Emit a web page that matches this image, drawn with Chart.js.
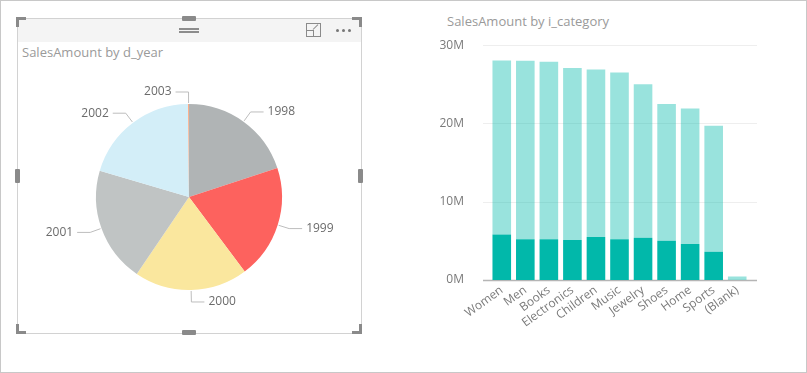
<!DOCTYPE html>
<html lang="en">
<head>
<meta charset="UTF-8">
<title>SalesAmount report</title>
<script src="https://cdn.jsdelivr.net/npm/chart.js"></script>
<style>
  html, body { margin: 0; padding: 0; background: #fff; }
  body { width: 807px; height: 373px; position: relative; overflow: hidden;
         font-family: 'Segoe UI', 'Open Sans', sans-serif; }
  .outer { position: absolute; left: 0; top: 0; width: 805px; height: 371px; border: 1px solid #c8c8c8; }
  .frame { position: absolute; left: 17px; top: 18px; width: 343px; height: 314px; border: 1px solid #d2d2d2; }
  .header { position: absolute; left: 18px; top: 19px; width: 343px; height: 23px; background: #f4f4f4; }
  .handle { position: absolute; background: #8a8a8a; }
  .grip { position: absolute; left: 179px; width: 20px; height: 2px; background: #8c8c8c; }
  .dot { position: absolute; top: 29px; width: 3px; height: 3px; border-radius: 50%; background: #777; }
  .focus { position: absolute; left: 306px; top: 23px; width: 13px; height: 12px; border: 1px solid #8a8a8a; }
  .focus i { position: absolute; left: 0; bottom: 0; width: 6px; height: 5px; border-top: 1px solid #8a8a8a; border-right: 1px solid #8a8a8a; }
  .focus b { position: absolute; left: 6px; top: 5px; width: 7px; height: 1px; background: #8a8a8a; transform: rotate(-45deg); transform-origin: left center; }
  .title { position: absolute; font-size: 13px; color: #9a9a9a; white-space: nowrap; }
  canvas { position: absolute; }
</style>
</head>
<body>
<div class="outer"></div>
<div class="header"></div>
<div class="frame"></div>

<!-- corner and edge handles of the selected visual -->
<div class="handle" style="left:16px;top:17px;width:10px;height:3px"></div>
<div class="handle" style="left:16px;top:17px;width:3px;height:10px"></div>
<div class="handle" style="left:352px;top:17px;width:10px;height:3px"></div>
<div class="handle" style="left:359px;top:17px;width:3px;height:10px"></div>
<div class="handle" style="left:16px;top:331px;width:10px;height:3px"></div>
<div class="handle" style="left:16px;top:324px;width:3px;height:10px"></div>
<div class="handle" style="left:352px;top:331px;width:10px;height:3px"></div>
<div class="handle" style="left:359px;top:324px;width:3px;height:10px"></div>
<div class="handle" style="left:182px;top:16px;width:14px;height:5px;border-radius:1px"></div>
<div class="handle" style="left:182px;top:330px;width:14px;height:5px;border-radius:1px"></div>
<div class="handle" style="left:15px;top:169px;width:5px;height:14px;border-radius:1px"></div>
<div class="handle" style="left:358px;top:169px;width:5px;height:14px;border-radius:1px"></div>

<div class="grip" style="top:28px"></div>
<div class="grip" style="top:31px"></div>
<div class="focus"><i></i><b></b></div>
<div class="dot" style="left:336px"></div>
<div class="dot" style="left:342px"></div>
<div class="dot" style="left:348px"></div>

<div class="title" style="left:22px;top:43px">SalesAmount by d_year</div>
<div class="title" style="left:447px;top:12px">SalesAmount by i_category</div>

<canvas id="pieChart" width="343" height="272" style="left:18px;top:60px"></canvas>
<canvas id="barChart" width="350" height="330" style="left:420px;top:20px"></canvas>

<script>
  // Pie: sales by year (millions)
  const years = ['1998', '1999', '2000', '2001', '2002', '2003'];
  const yearSales = [50.6, 50.3, 50.0, 50.9, 51.5, 0.35];
  const yearColors = ['#B0B4B5', '#FD625E', '#FAE79E', '#C0C4C4', '#D3EEF8', '#FE9666'];

  // Bars: sales by category (millions), two stacked parts
  const categories = ['Women', 'Men', 'Books', 'Electronics', 'Children', 'Music',
                      'Jewelry', 'Shoes', 'Home', 'Sports', '(Blank)'];
  const salesLower = [5.8, 5.2, 5.2, 5.1, 5.5, 5.2, 5.4, 5.0, 4.6, 3.6, 0.0];
  const salesUpper = [22.25, 22.8, 22.7, 22.0, 21.4, 21.3, 19.6, 17.5, 17.3, 16.1, 0.45];
  const yTicks = [0, 10, 20, 30];

  const labelFont = "12px 'Segoe UI', 'Open Sans', sans-serif";

  // outside labels with elbow leader lines
  const leaderLabels = {
    id: 'leaderLabels',
    afterDatasetsDraw(chart) {
      const ctx = chart.ctx;
      const meta = chart.getDatasetMeta(0);
      ctx.save();
      ctx.font = labelFont;
      ctx.textBaseline = 'middle';
      meta.data.forEach((arc, i) => {
        const { x, y, startAngle, endAngle, outerRadius } = arc.getProps(['x', 'y', 'startAngle', 'endAngle', 'outerRadius'], true);
        const mid = (startAngle + endAngle) / 2;
        const cx = Math.cos(mid), cy = Math.sin(mid);
        const x0 = x + cx * (outerRadius + 1), y0 = y + cy * (outerRadius + 1);
        const x1 = x + cx * (outerRadius + 12), y1 = y + cy * (outerRadius + 12);
        const dir = cx >= 0 ? 1 : -1;
        const x2 = x1 + dir * 13;
        ctx.strokeStyle = '#bdbdbd';
        ctx.lineWidth = 1;
        ctx.beginPath();
        ctx.moveTo(x0, y0);
        ctx.lineTo(x1, y1);
        ctx.lineTo(x2, y1);
        ctx.stroke();
        ctx.fillStyle = '#6b6b6b';
        ctx.textAlign = dir > 0 ? 'left' : 'right';
        ctx.fillText(chart.data.labels[i], x2 + dir * 4, y1);
      });
      ctx.restore();
    }
  };

  new Chart(document.getElementById('pieChart'), {
    type: 'pie',
    data: {
      labels: years,
      datasets: [{ data: yearSales, backgroundColor: yearColors, borderWidth: 0 }]
    },
    options: {
      responsive: false,
      animation: false,
      layout: { padding: { left: 78, right: 79, top: 44, bottom: 42 } },
      plugins: { legend: { display: false }, tooltip: { enabled: false } }
    },
    plugins: [leaderLabels]
  });

  // grid lines that run a little past the bars, plus the darker baseline
  const wideGrid = {
    id: 'wideGrid',
    beforeDatasetsDraw(chart) {
      const ctx = chart.ctx;
      const area = chart.chartArea;
      const yScale = chart.scales.y;
      ctx.save();
      yScale.ticks.forEach(t => {
        const py = Math.round(yScale.getPixelForValue(t.value)) + 0.5;
        ctx.strokeStyle = t.value === 0 ? '#b5b5b5' : '#eeeeee';
        ctx.lineWidth = t.value === 0 ? 1.5 : 1;
        ctx.beginPath();
        ctx.moveTo(area.left - 7, py);
        ctx.lineTo(area.right + 8, py);
        ctx.stroke();
      });
      ctx.restore();
    }
  };

  new Chart(document.getElementById('barChart'), {
    type: 'bar',
    data: {
      labels: categories,
      datasets: [
        { data: salesLower, backgroundColor: '#01B8AA', borderWidth: 0 },
        { data: salesUpper, backgroundColor: 'rgba(1, 184, 170, 0.4)', borderWidth: 0 }
      ]
    },
    options: {
      responsive: false,
      animation: false,
      datasets: { bar: { categoryPercentage: 1, barPercentage: 0.79 } },
      layout: { padding: { top: 24, right: 21 } },
      plugins: { legend: { display: false }, tooltip: { enabled: false } },
      scales: {
        x: {
          stacked: true,
          grid: { display: false },
          border: { display: false },
          ticks: {
            color: '#7a7a7a',
            font: { family: "'Segoe UI', 'Open Sans', sans-serif", size: 12 },
            minRotation: 36, maxRotation: 36, padding: -5, autoSkip: false
          },
          afterFit(scale) { scale.height = 70; }
        },
        y: {
          stacked: true,
          min: 0, max: 30,
          afterBuildTicks(scale) { scale.ticks = yTicks.map(v => ({ value: v })); },
          grid: { display: false },
          border: { display: false },
          ticks: {
            color: '#7a7a7a',
            font: { family: "'Segoe UI', 'Open Sans', sans-serif", size: 12 },
            padding: 18,
            callback: v => v + 'M'
          },
          afterFit(scale) { scale.width = 70; }
        }
      }
    },
    plugins: [wideGrid]
  });
</script>
</body>
</html>
